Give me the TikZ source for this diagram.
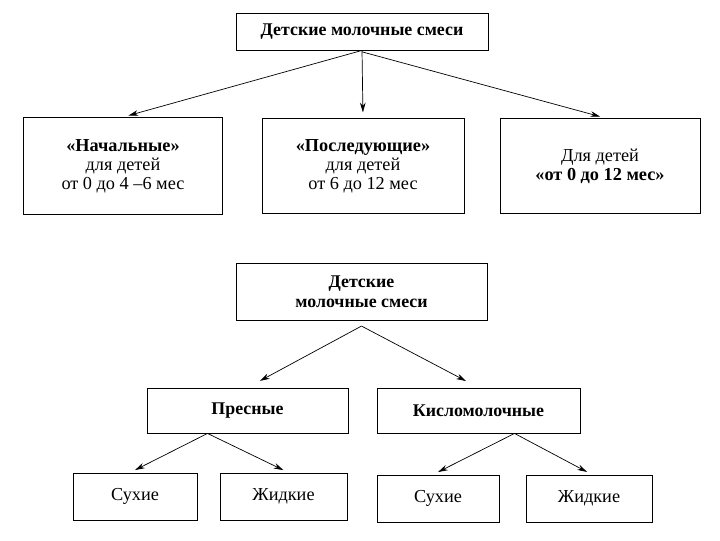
\documentclass[tikz,border=0pt]{standalone}
\usepackage{fontspec}
\setmainfont{Liberation Serif}
\usetikzlibrary{arrows.meta}

\begin{document}
\begin{tikzpicture}[
  x=0.025cm, y=-0.025cm,
  every node/.style={draw, rectangle, align=center, inner sep=2pt, line width=0.6pt,
    font=\fontsize{13}{13.5}\selectfont},
  box/.style 2 args={minimum width=#1*0.025cm, minimum height=#2*0.025cm},
  title/.style={font=\fontsize{12.7}{14}\selectfont\bfseries},
  arrow/.style={-{Stealth[length=7pt, width=4pt]}, line width=0.5pt, shorten >=4pt}
]
\useasboundingbox (0,0) rectangle (720,540);

% first scheme: by age
\node[box={252}{37}, title] (mix) at (362,31.5) {Детские молочные смеси};
\node[box={199}{97}] (start) at (123,166) {\textbf{«Начальные»}\\для детей\\от 0 до 4 –6 мес};
\node[box={202}{95}] (next) at (363,166) {\textbf{«Последующие»}\\для детей\\от 6 до 12 мес};
\node[box={200}{95}] (full) at (600,166) {Для детей\\\textbf{«от 0 до 12 мес»}};

\draw[arrow] (mix.south) -- (start.north);
\draw[arrow] (mix.south) -- (next.north);
\draw[arrow] ([yshift=-1pt]mix.south) -- ([xshift=4pt]full.north);

% second scheme: by kind
\node[box={251}{57}, title] (mix2) at (361.5,291.5) {Детские\\молочные смеси};
\node[box={201}{45}, title] (fresh) at (247.5,410.5) {Пресные};
\node[box={203}{45}, title] (sour) at (478.5,410.5) {Кисломолочные};

\draw[arrow, shorten >=10pt] ([yshift=-4pt]mix2.south) -- (fresh.north);
\draw[arrow, shorten >=10pt] ([yshift=-4pt]mix2.south) -- (sour.north);

\node[box={124}{47}] (dry1) at (135,496.5) {Сухие};
\node[box={127}{47}] (liq1) at (283.5,496.5) {Жидкие};
\node[box={122}{47}] (dry2) at (438,498.5) {Сухие};
\node[box={126}{47}] (liq2) at (589,498.5) {Жидкие};

\draw[arrow] ([xshift=-40*0.025cm]fresh.south) -- ([xshift=-5*0.025cm]dry1.north);
\draw[arrow] ([xshift=-40*0.025cm]fresh.south) -- ([xshift=5*0.025cm]liq1.north);
\draw[arrow] ([xshift=36*0.025cm]sour.south) -- ([xshift=-5*0.025cm]dry2.north);
\draw[arrow] ([xshift=36*0.025cm]sour.south) -- ([xshift=3*0.025cm]liq2.north);
\end{tikzpicture}
\end{document}
